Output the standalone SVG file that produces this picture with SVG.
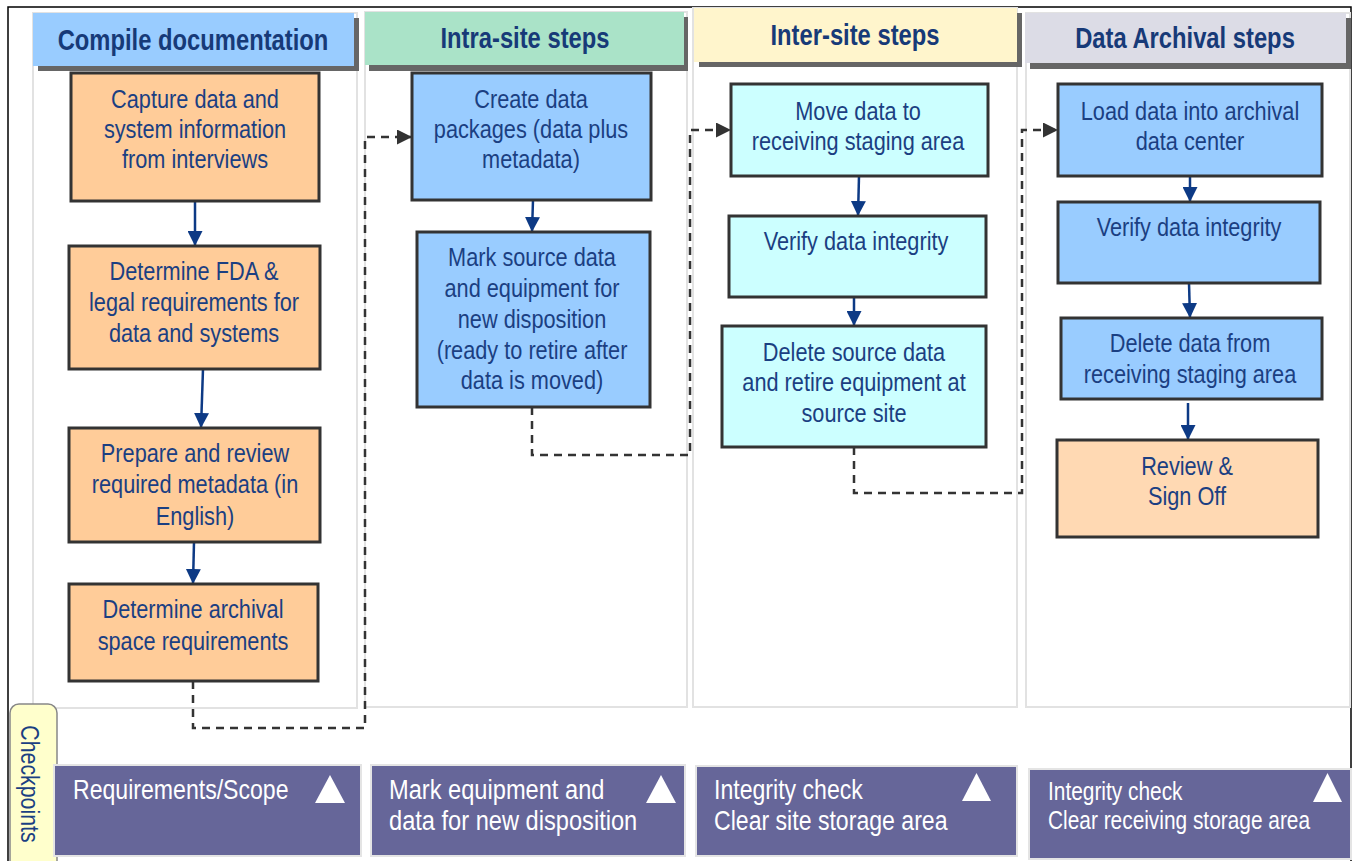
<svg xmlns="http://www.w3.org/2000/svg" width="1354" height="861" viewBox="0 0 1354 861">
<defs>
<style>
.lane{fill:#ffffff;stroke:#e2e2e2;stroke-width:2}
.shadow{fill:#666666}
.htxt{font-family:"Liberation Sans",Arial,sans-serif;font-weight:bold;font-size:29px;fill:#173a78;text-anchor:middle}
.box{stroke:#333333;stroke-width:3}
.orange{fill:#ffcc99}
.blue{fill:#99ccff}
.cyan{fill:#ccffff}
.peach{fill:#ffd9b3}
.btxt{font-family:"Liberation Sans",Arial,sans-serif;font-size:26.5px;fill:#1b3f82;text-anchor:middle}
.flow{stroke:#0d3a85;stroke-width:2.5;fill:none}
.dash{stroke:#333333;stroke-width:2.5;fill:none;stroke-dasharray:8 6}
.cp{fill:#666699;stroke:#e4e4e4;stroke-width:2}
.ctxt{font-family:"Liberation Sans",Arial,sans-serif;font-size:27.5px;fill:#ffffff}
.ctxt4{font-family:"Liberation Sans",Arial,sans-serif;font-size:25px;fill:#ffffff}
.tri{fill:#ffffff}
</style>
<marker id="navyArrow" markerUnits="userSpaceOnUse" markerWidth="15" markerHeight="15" refX="15" refY="7.5" orient="auto">
<path d="M0,0 L15,7.5 L0,15 z" fill="#0d3a85"/>
</marker>
<marker id="darkArrow" markerUnits="userSpaceOnUse" markerWidth="15" markerHeight="15" refX="15" refY="7.5" orient="auto">
<path d="M0,0 L15,7.5 L0,15 z" fill="#333333"/>
</marker>
</defs>
<rect x="0" y="0" width="1354" height="861" fill="#ffffff"/>
<rect x="8" y="7" width="1343" height="880" fill="none" stroke="#000000" stroke-width="1.5"/>

<g id="lane-compile">
<rect class="lane" x="33" y="13" width="324" height="695"/>
<rect class="shadow" x="38" y="18" width="321" height="53"/>
<rect x="33" y="13" width="321" height="53" fill="#99ccff"/>
<text class="htxt" transform="translate(193,50) scale(0.82,1)">Compile documentation</text>
</g>
<g id="lane-intra">
<rect class="lane" x="365" y="12" width="322" height="695"/>
<rect class="shadow" x="369" y="17" width="319" height="54"/>
<rect x="365" y="12" width="319" height="53" fill="#aae3c8"/>
<text class="htxt" transform="translate(525,48) scale(0.82,1)">Intra-site steps</text>
</g>
<g id="lane-inter">
<rect class="lane" x="693" y="8" width="324" height="699"/>
<rect class="shadow" x="699" y="13" width="323" height="54"/>
<rect x="694" y="8" width="323" height="54" fill="#fff5cc"/>
<text class="htxt" transform="translate(855,45) scale(0.82,1)">Inter-site steps</text>
</g>
<g id="lane-archival">
<rect class="lane" x="1026" y="13" width="324" height="694"/>
<rect class="shadow" x="1030" y="18" width="321" height="51"/>
<rect x="1025" y="13" width="321" height="50" fill="#dcdce6"/>
<text class="htxt" transform="translate(1185,48) scale(0.82,1)">Data Archival steps</text>
</g>

<g id="connectors">
<line class="flow" x1="195" y1="201" x2="195" y2="246" marker-end="url(#navyArrow)"/>
<line class="flow" x1="203" y1="369" x2="201" y2="428" marker-end="url(#navyArrow)"/>
<line class="flow" x1="194" y1="542" x2="193" y2="584" marker-end="url(#navyArrow)"/>
<line class="flow" x1="533" y1="200" x2="532" y2="232" marker-end="url(#navyArrow)"/>
<line class="flow" x1="859" y1="176" x2="858" y2="216" marker-end="url(#navyArrow)"/>
<line class="flow" x1="854" y1="297" x2="854" y2="326" marker-end="url(#navyArrow)"/>
<line class="flow" x1="1190" y1="176" x2="1190" y2="202" marker-end="url(#navyArrow)"/>
<line class="flow" x1="1189" y1="283" x2="1190" y2="318" marker-end="url(#navyArrow)"/>
<line class="flow" x1="1188" y1="403" x2="1188" y2="440" marker-end="url(#navyArrow)"/>
<path class="dash" d="M193,681 V728 H365 V137 H412" marker-end="url(#darkArrow)"/>
<path class="dash" d="M532,407 V455 H690 V130 H731" marker-end="url(#darkArrow)"/>
<path class="dash" d="M854,447 V493 H1022 V130 H1058" marker-end="url(#darkArrow)"/>
</g>

<g id="node-capture">
<rect class="box orange" x="71" y="73" width="248" height="128"/>
<text class="btxt" transform="translate(195,108) scale(0.82,1)">Capture data and</text>
<text class="btxt" transform="translate(195,138) scale(0.82,1)">system information</text>
<text class="btxt" transform="translate(195,168) scale(0.82,1)">from interviews</text>
</g>
<g id="node-fda">
<rect class="box orange" x="69" y="246" width="251" height="123"/>
<text class="btxt" transform="translate(194,280) scale(0.82,1)">Determine FDA &amp;</text>
<text class="btxt" transform="translate(194,311) scale(0.82,1)">legal requirements for</text>
<text class="btxt" transform="translate(194,342) scale(0.82,1)">data and systems</text>
</g>
<g id="node-metadata">
<rect class="box orange" x="69" y="428" width="251" height="114"/>
<text class="btxt" transform="translate(195,462) scale(0.82,1)">Prepare and review</text>
<text class="btxt" transform="translate(195,493) scale(0.82,1)">required metadata (in</text>
<text class="btxt" transform="translate(195,525) scale(0.82,1)">English)</text>
</g>
<g id="node-space">
<rect class="box orange" x="69" y="584" width="249" height="97"/>
<text class="btxt" transform="translate(193,618) scale(0.82,1)">Determine archival</text>
<text class="btxt" transform="translate(193,650) scale(0.82,1)">space requirements</text>
</g>

<g id="node-packages">
<rect class="box blue" x="412" y="73" width="239" height="127"/>
<text class="btxt" transform="translate(531,108) scale(0.82,1)">Create data</text>
<text class="btxt" transform="translate(531,138) scale(0.82,1)">packages (data plus</text>
<text class="btxt" transform="translate(531,168) scale(0.82,1)">metadata)</text>
</g>
<g id="node-mark">
<rect class="box blue" x="417" y="232" width="233" height="175"/>
<text class="btxt" transform="translate(532,266) scale(0.82,1)">Mark source data</text>
<text class="btxt" transform="translate(532,297) scale(0.82,1)">and equipment for</text>
<text class="btxt" transform="translate(532,328) scale(0.82,1)">new disposition</text>
<text class="btxt" transform="translate(532,359) scale(0.82,1)">(ready to retire after</text>
<text class="btxt" transform="translate(532,389) scale(0.82,1)">data is moved)</text>
</g>

<g id="node-move">
<rect class="box cyan" x="731" y="84" width="257" height="92"/>
<text class="btxt" transform="translate(858,120) scale(0.82,1)">Move data to</text>
<text class="btxt" transform="translate(858,150) scale(0.82,1)">receiving staging area</text>
</g>
<g id="node-verify1">
<rect class="box cyan" x="729" y="216" width="257" height="81"/>
<text class="btxt" transform="translate(856,250) scale(0.82,1)">Verify data integrity</text>
</g>
<g id="node-delete-source">
<rect class="box cyan" x="722" y="326" width="264" height="121"/>
<text class="btxt" transform="translate(854,361) scale(0.82,1)">Delete source data</text>
<text class="btxt" transform="translate(854,391) scale(0.82,1)">and retire equipment at</text>
<text class="btxt" transform="translate(854,422) scale(0.82,1)">source site</text>
</g>

<g id="node-load">
<rect class="box blue" x="1058" y="84" width="264" height="92"/>
<text class="btxt" transform="translate(1190,120) scale(0.82,1)">Load data into archival</text>
<text class="btxt" transform="translate(1190,150) scale(0.82,1)">data center</text>
</g>
<g id="node-verify2">
<rect class="box blue" x="1058" y="202" width="262" height="81"/>
<text class="btxt" transform="translate(1189,236) scale(0.82,1)">Verify data integrity</text>
</g>
<g id="node-delete-staging">
<rect class="box blue" x="1061" y="318" width="261" height="81"/>
<text class="btxt" transform="translate(1190,352) scale(0.82,1)">Delete data from</text>
<text class="btxt" transform="translate(1190,383) scale(0.82,1)">receiving staging area</text>
</g>
<g id="node-review">
<rect class="box peach" x="1057" y="440" width="261" height="97"/>
<text class="btxt" transform="translate(1187,475) scale(0.82,1)">Review &amp;</text>
<text class="btxt" transform="translate(1187,505) scale(0.82,1)">Sign Off</text>
</g>

<g id="checkpoints-tab">
<rect x="10" y="704" width="47" height="175" rx="9" fill="#ffffcc" stroke="#888888" stroke-width="1.5"/>
<text transform="translate(21,784) rotate(90) scale(0.82,1)" font-family="Liberation Sans, Arial, sans-serif" font-size="26px" fill="#1b3f82" text-anchor="middle">Checkpoints</text>
</g>
<g id="cp-requirements">
<rect class="cp" x="54" y="765" width="307" height="91"/>
<text class="ctxt" transform="translate(73,799) scale(0.84,1)">Requirements/Scope</text>
<polygon class="tri" points="315,803 345,803 330,775"/>
</g>
<g id="cp-mark">
<rect class="cp" x="371" y="765" width="314" height="91"/>
<text class="ctxt" transform="translate(389,799) scale(0.86,1)">Mark equipment and</text>
<text class="ctxt" transform="translate(389,830) scale(0.86,1)">data for new disposition</text>
<polygon class="tri" points="646,803 676,803 661,775"/>
</g>
<g id="cp-site">
<rect class="cp" x="696" y="766" width="321" height="90"/>
<text class="ctxt" transform="translate(714,799) scale(0.84,1)">Integrity check</text>
<text class="ctxt" transform="translate(714,830) scale(0.84,1)">Clear site storage area</text>
<polygon class="tri" points="962,801 991,801 976.5,773"/>
</g>
<g id="cp-receiving">
<rect class="cp" x="1029" y="769" width="322" height="90"/>
<text class="ctxt4" transform="translate(1048,800) scale(0.835,1)">Integrity check</text>
<text class="ctxt4" transform="translate(1048,829) scale(0.835,1)">Clear receiving storage area</text>
<polygon class="tri" points="1313,802 1342,802 1327.5,773"/>
</g>
</svg>
